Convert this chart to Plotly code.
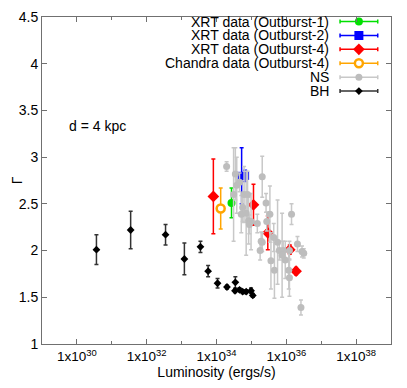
import plotly.graph_objects as go

# log10(L) values, photon index, symmetric errors
xrt1_logL = [34.43]
xrt1_gamma = [2.51]
xrt1_err = [0.16]

xrt2_logL = [34.72, 34.82]
xrt2_gamma = [2.80, 2.80]
xrt2_err = [0.30, 0.06]

xrt4_logL = [33.91, 35.06, 35.47, 36.10, 36.28]
xrt4_gamma = [2.58, 2.49, 2.19, 2.01, 1.78]
xrt4_err = [0.40, 0.22, 0.18, 0.05, 0.04]

chandra_logL = [34.12]
chandra_gamma = [2.45]
chandra_err = [0.22]

ns_logL = [34.29, 34.54, 34.49, 34.58, 34.66, 34.79, 34.89, 35.31, 34.75, 34.71,
           34.85, 34.92, 34.99, 35.17, 35.42, 35.53, 35.44, 36.15, 35.64, 35.75,
           35.31, 35.25, 35.80, 35.91, 36.32, 36.45, 36.50, 35.56, 35.66, 35.97,
           35.88, 36.07, 36.09, 36.42, 35.28, 36.09, 34.94]
ns_gamma = [2.90, 2.82, 2.60, 2.70, 2.73, 2.60, 2.60, 2.79, 2.46, 2.39,
            2.40, 2.32, 2.31, 2.29, 2.51, 2.39, 2.31, 2.39, 2.14, 2.09,
            2.09, 2.00, 2.00, 2.00, 2.07, 1.99, 1.97, 1.89, 1.79, 1.90,
            1.95, 1.79, 1.71, 1.39, 2.10, 2.00, 2.28]
ns_err = [0.05, 0.28, 0.50, 0.30, 0.10, 0.30, 0.25, 0.22, 0.15, 0.20,
          0.45, 0.25, 0.30, 0.10, 0.10, 0.30, 0.10, 0.11, 0.15, 0.45,
          0.10, 0.10, 0.10, 0.10, 0.08, 0.06, 0.05, 0.30, 0.30, 0.20,
          0.45, 0.20, 0.20, 0.08, 0.10, 0.10, 0.10]

bh_logL = [30.56, 31.54, 32.54, 33.08, 33.54, 33.76, 34.03, 34.30, 34.54, 34.53,
           34.66, 34.75, 34.85, 34.99, 35.04]
bh_gamma = [2.01, 2.22, 2.17, 1.91, 2.04, 1.78, 1.65, 1.61, 1.66, 1.57,
            1.58, 1.56, 1.56, 1.57, 1.52]
bh_err = [0.16, 0.20, 0.11, 0.17, 0.06, 0.06, 0.05, 0.02, 0.06, 0.02,
          0.02, 0.02, 0.02, 0.03, 0.02]

series_names = ["XRT data (Outburst-1)", "XRT data (Outburst-2)", "XRT data (Outburst-4)",
                "Chandra data (Outburst-4)", "NS", "BH"]

x_tick_exps = [30, 32, 34, 36, 38]
x_minor_exps = [29, 31, 33, 35, 37, 39]
y_ticks = [1, 1.5, 2, 2.5, 3, 3.5, 4, 4.5]

FONT = "Liberation Sans, Arial, sans-serif"

# style per series: (marker color, bar color, symbol, size, line, legend size)
styles = [
    ("#00e000", "#00e000", "circle", 8, None, 8),
    ("#0000ff", "#0000ff", "square", 8, None, 9),
    ("#ff0000", "#ff0000", "diamond", 9, None, 9),
    ("white", "#ffa500", "circle", 8, dict(color="#ffa500", width=2.5), 8),
    ("#bdbdbd", "#c8c8c8", "circle", 7, None, 7),
    ("black", "#333333", "diamond", 6, None, 6),
]
data = [
    (xrt1_logL, xrt1_gamma, xrt1_err),
    (xrt2_logL, xrt2_gamma, xrt2_err),
    (xrt4_logL, xrt4_gamma, xrt4_err),
    (chandra_logL, chandra_gamma, chandra_err),
    (ns_logL, ns_gamma, ns_err),
    (bh_logL, bh_gamma, bh_err),
]


def L(v):
    return [10.0 ** e for e in v]


fig = go.Figure()

for name, (lx, g, e), (mc, bc, sym, sz, ln, lsz) in zip(series_names, data, styles):
    marker = dict(color=mc, symbol=sym, size=sz)
    marker["line"] = ln if ln else dict(width=0)
    fig.add_trace(go.Scatter(
        x=L(lx), y=g, mode="markers", name=name, showlegend=False,
        marker=marker,
        error_y=dict(type="data", array=e, visible=True, color=bc,
                     thickness=1.5, width=2),
    ))

# gnuplot-style key (text right, sample on the right) on an overlay axis
key_x = 0.908
key_half = 0.054
key_y0 = 0.986
key_dy = 0.0425
for i, (name, (mc, bc, sym, sz, ln, lsz)) in enumerate(zip(series_names, styles)):
    ky = key_y0 - i * key_dy
    marker = dict(color=mc, symbol=sym, size=lsz)
    marker["line"] = ln if ln else dict(width=0)
    fig.add_trace(go.Scatter(
        x=[key_x], y=[ky], xaxis="x2", yaxis="y2", mode="markers", showlegend=False,
        hoverinfo="skip", marker=marker,
        error_x=dict(type="constant", value=key_half, visible=True, color=bc,
                     thickness=1.5, width=2),
    ))
    fig.add_annotation(x=0.828, y=ky, xref="paper", yref="paper", text=name,
                       showarrow=False, xanchor="right", yanchor="middle",
                       font=dict(size=14, color="black", family=FONT))

fig.add_annotation(x=0.072, y=0.667, xref="paper", yref="paper", text="d = 4 kpc",
                   showarrow=False, xanchor="left", yanchor="middle",
                   font=dict(size=14, color="black", family=FONT))

fig.add_annotation(x=-0.072, y=0.5, xref="paper", yref="paper", text="Γ",
                   showarrow=False, xanchor="center", yanchor="middle", textangle=-90,
                   font=dict(size=14, color="black", family=FONT))

fig.update_layout(
    width=391, height=372,
    margin=dict(l=34, r=8, t=9, b=36),
    paper_bgcolor="white", plot_bgcolor="white",
    font=dict(family=FONT, size=14, color="black"),
    showlegend=False,
    xaxis=dict(
        type="log", range=[29, 39],
        tickvals=[10.0 ** e for e in x_tick_exps],
        ticktext=["1x10<sup>%d</sup>" % e for e in x_tick_exps],
        ticks="inside", ticklen=5, tickcolor="#707070", mirror="allticks",
        showline=True, linecolor="#707070", linewidth=1, showgrid=False, zeroline=False,
        minor=dict(tickvals=[10.0 ** e for e in x_minor_exps], ticks="inside", ticklen=3,
                   tickcolor="#707070"),
        title=dict(text="Luminosity (ergs/s)", standoff=2, font=dict(size=14)),
        tickfont=dict(size=13.5), automargin=False, ticklabeloverflow="allow",
    ),
    yaxis=dict(
        range=[1, 4.5], tickvals=y_ticks, ticktext=[("%g" % v) for v in y_ticks],
        ticks="inside", ticklen=5, tickcolor="#707070", mirror="allticks",
        showline=True, linecolor="#707070", linewidth=1, showgrid=False, zeroline=False,
        tickfont=dict(size=14), automargin=False, ticklabeloverflow="allow",
    ),
    xaxis2=dict(overlaying="x", range=[0, 1], visible=False, fixedrange=True),
    yaxis2=dict(overlaying="y", range=[0, 1], visible=False, fixedrange=True),
)

fig.write_html("out.html")
